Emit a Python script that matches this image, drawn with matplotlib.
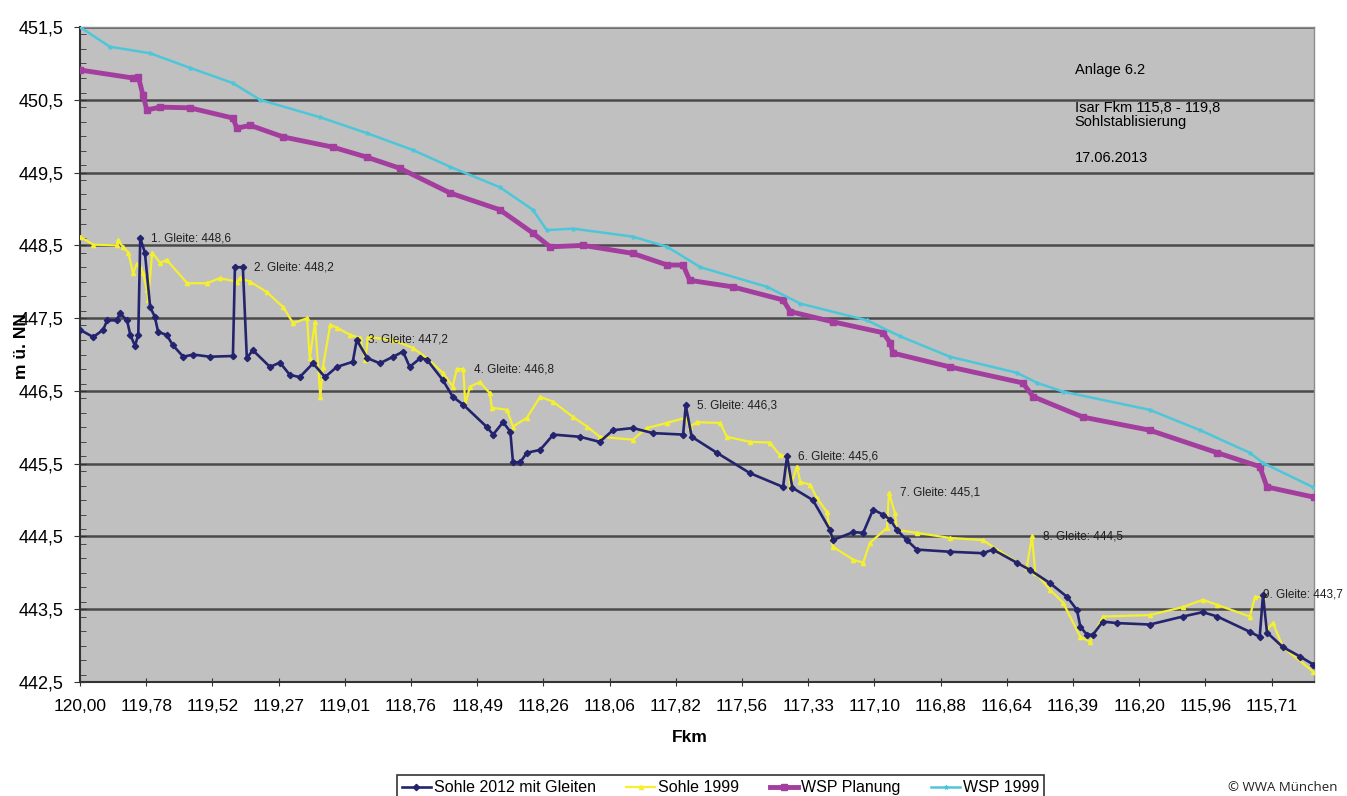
import numpy as np
import matplotlib
matplotlib.use("Agg")
import matplotlib.pyplot as plt
from matplotlib.ticker import FixedLocator, MultipleLocator, FuncFormatter

plt.rcParams['font.family'] = ['Liberation Sans', 'DejaVu Sans']

# category axis: Fkm labels at integer stations
fkm_labels = ['120,00', '119,78', '119,52', '119,27', '119,01', '118,76', '118,49',
              '118,26', '118,06', '117,82', '117,56', '117,33', '117,10', '116,88',
              '116,64', '116,39', '116,20', '115,96', '115,71']
x_end = 18.64
y_ticks = [442.5, 443.5, 444.5, 445.5, 446.5, 447.5, 448.5, 449.5, 450.5, 451.5]

# WSP 1999
wsp99_x = [0.00, 0.45, 1.06, 1.66, 2.31, 2.72, 3.63, 4.34, 5.03, 5.59, 6.34, 6.84,
           7.05, 7.45, 8.35, 8.87, 9.37, 10.38, 10.88, 11.89, 12.39, 13.14, 14.15,
           14.46, 14.85, 16.16, 16.92, 17.67, 17.87, 18.62]
wsp99_y = [451.50, 451.23, 451.14, 450.94, 450.73, 450.50, 450.26, 450.04, 449.81,
           449.58, 449.30, 448.99, 448.71, 448.73, 448.62, 448.48, 448.20, 447.93,
           447.70, 447.47, 447.25, 446.97, 446.75, 446.61, 446.49, 446.24, 445.96,
           445.65, 445.51, 445.18]

# WSP Planung
wspp_x = [0.00, 0.80, 0.88, 0.95, 1.01, 1.21, 1.66, 2.31, 2.37, 2.57, 3.07, 3.82,
          4.34, 4.83, 5.59, 6.34, 6.84, 7.10, 7.60, 8.35, 8.87, 9.11, 9.21, 9.86,
          10.62, 10.73, 11.37, 12.13, 12.24, 12.28, 13.14, 14.24, 14.40, 15.15,
          16.16, 17.18, 17.82, 17.93, 18.64]
wspp_y = [450.91, 450.80, 450.82, 450.57, 450.36, 450.40, 450.39, 450.25, 450.11,
          450.15, 449.99, 449.85, 449.71, 449.56, 449.22, 448.99, 448.67, 448.48,
          448.50, 448.39, 448.23, 448.23, 448.02, 447.93, 447.75, 447.59, 447.45,
          447.30, 447.16, 447.02, 446.83, 446.61, 446.42, 446.14, 445.96, 445.65,
          445.46, 445.18, 445.04]

# Sohle 2012 mit Gleiten
s12_x = [0.00, 0.20, 0.35, 0.41, 0.56, 0.60, 0.71, 0.76, 0.83, 0.88, 0.91, 0.98,
         1.06, 1.13, 1.18, 1.31, 1.40, 1.56, 1.71, 1.96, 2.31, 2.34, 2.46, 2.52,
         2.61, 2.87, 3.02, 3.17, 3.32, 3.52, 3.70, 3.88, 4.12, 4.18, 4.34, 4.53,
         4.73, 4.88, 4.98, 5.14, 5.24, 5.48, 5.63, 5.79, 6.15, 6.24, 6.39, 6.50,
         6.54, 6.65, 6.75, 6.95, 7.15, 7.55, 7.85, 8.05, 8.35, 8.66, 9.11, 9.15,
         9.24, 9.62, 10.12, 10.62, 10.68, 10.76, 11.07, 11.33, 11.37, 11.68, 11.83,
         11.98, 12.13, 12.24, 12.34, 12.49, 12.64, 13.14, 13.64, 13.79, 14.15,
         14.35, 14.65, 14.91, 15.06, 15.11, 15.21, 15.30, 15.45, 15.66, 16.16,
         16.66, 16.96, 17.18, 17.67, 17.82, 17.87, 17.93, 18.17, 18.43, 18.63]
s12_y = [447.34, 447.24, 447.34, 447.47, 447.47, 447.57, 447.47, 447.27, 447.12,
         447.27, 448.60, 448.40, 447.65, 447.52, 447.31, 447.27, 447.13, 446.97,
         447.00, 446.97, 446.98, 448.20, 448.20, 446.95, 447.06, 446.83, 446.89,
         446.72, 446.69, 446.88, 446.69, 446.83, 446.90, 447.20, 446.95, 446.88,
         446.97, 447.04, 446.83, 446.95, 446.93, 446.65, 446.42, 446.31, 446.00,
         445.90, 446.07, 445.94, 445.52, 445.52, 445.65, 445.69, 445.90, 445.87,
         445.80, 445.96, 445.99, 445.92, 445.90, 446.30, 445.87, 445.65, 445.37,
         445.18, 445.60, 445.17, 445.00, 444.59, 444.45, 444.56, 444.55, 444.87,
         444.80, 444.73, 444.59, 444.45, 444.32, 444.29, 444.27, 444.32, 444.14,
         444.04, 443.86, 443.67, 443.49, 443.26, 443.15, 443.15, 443.33, 443.31,
         443.29, 443.40, 443.46, 443.40, 443.19, 443.12, 443.70, 443.18, 442.98,
         442.85, 442.74]

# Sohle 1999
s99_x = [0.00, 0.20, 0.56, 0.57, 0.65, 0.73, 0.80, 0.86, 0.91, 0.95, 1.01, 1.03,
         1.09, 1.21, 1.31, 1.62, 1.92, 2.11, 2.37, 2.42, 2.57, 2.82, 3.07, 3.22,
         3.43, 3.47, 3.55, 3.63, 3.67, 3.78, 3.88, 4.08, 4.23, 4.31, 4.35, 4.73,
         5.03, 5.24, 5.48, 5.63, 5.69, 5.79, 5.82, 5.89, 6.04, 6.19, 6.22, 6.45,
         6.54, 6.75, 6.95, 7.15, 7.45, 7.66, 7.85, 8.35, 8.56, 8.87, 9.14, 9.21,
         9.32, 9.67, 9.77, 10.12, 10.42, 10.57, 10.68, 10.73, 10.83, 10.88, 11.03,
         11.13, 11.28, 11.37, 11.68, 11.83, 11.93, 12.19, 12.22, 12.31, 12.34,
         12.64, 13.14, 13.64, 13.90, 14.30, 14.38, 14.43, 14.65, 14.85, 15.11,
         15.26, 15.45, 16.16, 16.66, 16.96, 17.18, 17.67, 17.75, 17.87, 17.93,
         18.02, 18.17, 18.63]
s99_y = [448.62, 448.51, 448.50, 448.57, 448.48, 448.40, 448.12, 448.25, 448.20,
         448.12, 447.89, 447.75, 448.40, 448.26, 448.30, 447.98, 447.98, 448.05,
         448.00, 448.05, 448.00, 447.86, 447.65, 447.43, 447.50, 446.95, 447.45,
         446.42, 446.83, 447.41, 447.37, 447.27, 447.23, 446.93, 447.24, 447.20,
         447.09, 446.95, 446.75, 446.56, 446.80, 446.80, 446.31, 446.56, 446.62,
         446.47, 446.27, 446.24, 446.01, 446.13, 446.42, 446.35, 446.14, 446.01,
         445.87, 445.83, 445.99, 446.06, 446.13, 446.01, 446.07, 446.06, 445.87,
         445.80, 445.79, 445.62, 445.60, 445.18, 445.46, 445.25, 445.21, 445.03,
         444.84, 444.36, 444.18, 444.14, 444.41, 444.62, 445.10, 444.82, 444.59,
         444.55, 444.48, 444.45, 444.29, 444.07, 444.50, 444.00, 443.77, 443.59,
         443.12, 443.05, 443.40, 443.42, 443.53, 443.63, 443.56, 443.40, 443.67,
         443.67, 443.22, 443.31, 442.98, 442.64]

# Gleiten (ramps)
gleite_x = [0.91, 2.46, 4.18, 5.79, 9.15, 10.68, 12.22, 14.38, 17.87]
gleite_val = [448.6, 448.2, 447.2, 446.8, 446.3, 445.6, 445.1, 444.5, 443.7]

fig = plt.figure(figsize=(13.47, 7.96), dpi=100)
ax = fig.add_axes([0.0594, 0.1432, 0.9161, 0.8228])
ax.set_facecolor('#c0c0c0')

ax.plot(s12_x, s12_y, color='#24246e', lw=1.9, marker='D', ms=3.2, label='Sohle 2012 mit Gleiten', zorder=4)
ax.plot(s99_x, s99_y, color='#f4f030', lw=1.6, marker='^', ms=3, label='Sohle 1999', zorder=3)
ax.plot(wspp_x, wspp_y, color='#a33e9e', lw=3.5, marker='s', ms=4, label='WSP Planung', zorder=3)
ax.plot(wsp99_x, wsp99_y, color='#4ec6da', lw=1.8, marker='*', ms=3, label='WSP 1999', zorder=3)

for i, (gx, gv) in enumerate(zip(gleite_x, gleite_val)):
    txt = f'{i + 1}. Gleite: ' + f'{gv:.1f}'.replace('.', ',')
    dx = 8 if i < len(gleite_x) - 1 else 0
    ax.annotate(txt, xy=(gx, gv), xytext=(dx, 0), textcoords='offset points',
                fontsize=8.5, va='center', ha='left', color='#202020',
                annotation_clip=False, zorder=6)

ax.set_xlim(0, x_end)
ax.set_ylim(y_ticks[0], y_ticks[-1])
ax.set_xticks(range(len(fkm_labels)))
ax.set_xticklabels(fkm_labels, fontsize=12.5)
ax.yaxis.set_major_locator(FixedLocator(y_ticks))
ax.yaxis.set_minor_locator(MultipleLocator(0.2))
ax.yaxis.set_major_formatter(FuncFormatter(lambda v, p: f'{v:.1f}'.replace('.', ',')))
ax.tick_params(axis='y', which='major', labelsize=13, direction='inout', length=8,
               color='#333333', pad=8)
ax.tick_params(axis='y', which='minor', direction='in', length=4, color='#333333')
ax.tick_params(axis='x', direction='inout', length=6, color='#333333', pad=9)
ax.grid(axis='y', which='major', color='#4a4a4a', lw=1.8, zorder=1)
ax.set_axisbelow(True)
for s in ['left', 'bottom']:
    ax.spines[s].set_color('#333333')
    ax.spines[s].set_linewidth(1.5)
for s in ['top', 'right']:
    ax.spines[s].set_color('#8c8c8c')
    ax.spines[s].set_linewidth(1.0)

ax.text(0.806, 0.934, 'Anlage 6.2', transform=ax.transAxes, fontsize=10.5, va='center')
ax.text(0.806, 0.866, 'Isar Fkm 115,8 - 119,8\nSohlstablisierung', transform=ax.transAxes,
        fontsize=10.5, va='center', linespacing=1.0)
ax.text(0.806, 0.80, '17.06.2013', transform=ax.transAxes, fontsize=10.5, va='center')

fig.text(0.512, 0.074, 'Fkm', fontsize=12.5, fontweight='bold', ha='center', va='center')
fig.text(0.016, 0.565, 'm ü. NN', fontsize=12.5, fontweight='bold', rotation=90,
         ha='center', va='center')

leg = fig.legend(loc='upper center', bbox_to_anchor=(0.535, 0.036), ncol=4,
                 fontsize=11.5, frameon=True, fancybox=False, edgecolor='black',
                 handlelength=1.8, handletextpad=0.2, columnspacing=1.9,
                 borderpad=0.3)
leg.get_frame().set_linewidth(1.2)

fig.text(0.912, 0.011, '© WWA München', fontsize=9.5, family=['Open Sans', 'DejaVu Sans'],
         va='center', ha='left', color='#222222')

fig.savefig('out.png', dpi=100)
